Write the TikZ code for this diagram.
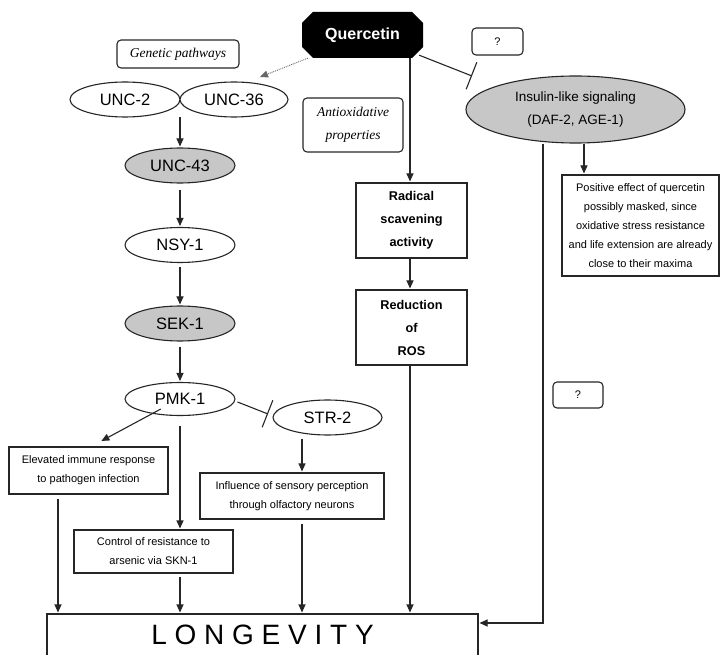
\documentclass[tikz,border=0pt]{standalone}
\usepackage{fontspec}
\setmainfont{Liberation Sans}
\newfontfamily\serifit{Liberation Serif}
\usetikzlibrary{arrows.meta,shapes.geometric,calc}
\begin{document}
\begin{tikzpicture}[x=1pt,y=-1pt,
 line/.style={draw=black!85,line width=1.1pt},
 arr/.style={line,-{Triangle[length=8pt,width=7pt]},shorten >=1pt},
 inh/.style={line,-{Bar[width=29pt,line width=1.1pt]}},
 gene/.style={ellipse,draw=black!85,line width=1.1pt,fill=white,minimum width=110pt,minimum height=35pt,inner sep=0pt,font=\fontsize{16.5}{18}\selectfont},
 shaded/.style={gene,fill=black!22},
 box/.style={draw=black!85,line width=1.1pt,rectangle,inner sep=0pt,align=center,font=\fontsize{11}{19}\selectfont},
 boldbox/.style={box,font=\bfseries\fontsize{12.7}{23}\selectfont},
 note/.style={box,rounded corners=4pt,font=\serifit\itshape\fontsize{13.5}{23}\selectfont},
]
\clip (0,0) rectangle (721,655);
\fill[white] (0,0) rectangle (721,655);

% Quercetin octagon
\fill[black] (313,12) -- (412,12) -- (423,23) -- (423,47) -- (412,58) -- (313,58) -- (302,47) -- (302,23) -- cycle;
\node[minimum width=121pt,minimum height=46pt,inner sep=0pt,text=white,font=\bfseries\fontsize{16}{18}\selectfont] (q) at (362.5,35) {Quercetin};

% notes
\node[note,minimum width=122pt,minimum height=28pt] (gp) at (178,54) {Genetic pathways};
\node[note,minimum width=100pt,minimum height=54pt] (ao) at (353,125) {Antioxidative\\properties};
\node[box,rounded corners=4pt,minimum width=51pt,minimum height=27pt] (qm1) at (497.5,41.5) {?};
\node[box,rounded corners=4pt,minimum width=50pt,minimum height=26pt] (qm2) at (578,395) {?};

% genetic chain
\node[gene,minimum width=110pt] (unc2) at (125,99.5) {UNC-2};
\node[gene,minimum width=108pt] (unc36) at (234,99.5) {UNC-36};
\coordinate (junc) at (180,117);
\node[shaded] (unc43) at (180,165.5) {UNC-43};
\node[gene] (nsy) at (180,245) {NSY-1};
\node[shaded] (sek) at (180,323.5) {SEK-1};
\node[gene,minimum height=33pt] (pmk) at (180,399) {PMK-1};
\node[gene,minimum width=109pt] (str) at (327.5,417.5) {STR-2};

% insulin
\node[ellipse,draw=black!85,line width=1.1pt,fill=black!22,minimum width=219pt,minimum height=67pt,inner sep=0pt,align=center,font=\fontsize{13.5}{23}\selectfont] (ins) at (575.5,109.5) {Insulin-like signaling\\(DAF-2, AGE-1)};

% boxes
\node[boldbox,minimum width=111pt,minimum height=75pt] (rad) at (411.5,220.5) {Radical\\scavening\\activity};
\node[boldbox,minimum width=111pt,minimum height=75pt] (red) at (411.5,327.5) {Reduction\\of\\ROS};
\node[box,minimum width=157pt,minimum height=101pt] (pos) at (640.5,225.5) {Positive effect of quercetin\\possibly masked, since\\oxidative stress resistance\\and life extension are already\\close to their maxima};
\node[box,minimum width=159pt,minimum height=47pt] (elev) at (88.5,470.5) {Elevated immune response\\to pathogen infection};
\node[box,minimum width=159pt,minimum height=43pt] (ctrl) at (153.5,551.5) {Control of resistance to\\arsenic via SKN-1};
\node[box,minimum width=184pt,minimum height=46pt] (infl) at (292,496) {Influence of sensory perception\\through olfactory neurons};
\node[box,minimum width=431pt,minimum height=42pt,font=\fontsize{28}{30}\selectfont] (long) at (262.5,635) {L O N G E V I T Y};

% coordinates
\coordinate (unctip) at (260,77);
\coordinate (insbar) at (472,76);
\coordinate (strbar) at (268,414);
\coordinate (ex) at (58,0);
\coordinate (sx) at (302,0);
\coordinate (rx) at (410,0);
\coordinate (turn) at (543,623);
\coordinate (px) at (584,0);

% connectors
\draw[draw=black!60,line width=0.9pt,densely dotted,-{Triangle[length=8pt,width=7pt]}] ($(q.south west)+(6,0)$) -- (unctip);
\draw[inh] ($(q.south east)+(-4,-3)$) -- (insbar);
\draw[arr] (q.south -| rx) -- (rad.north -| rx);
\draw[arr] (rad.south -| rx) -- (red.north -| rx);
\draw[arr] (red.south -| rx) -- (long.north -| rx);

\draw[arr] (junc) -- (unc43.north);
\draw[arr] ($(unc43.south)+(0,6)$) -- (nsy.north);
\draw[arr] ($(nsy.south)+(0,4)$) -- (sek.north);
\draw[arr] ($(sek.south)+(0,5)$) -- (pmk.north);
\draw[arr] ($(pmk.south west)+(20,-2)$) -- ($(elev.north)+(12,-5)$);
\draw[arr] ($(pmk.south)+(0,10)$) -- (ctrl.north -| pmk);
\draw[inh] ($(pmk.east)+(2,3)$) -- (strbar);
\draw[arr] (str.south -| sx) ++(0,3) -- (infl.north -| sx);

\draw[arr] ($(elev.south -| ex)+(0,4)$) -- (long.north -| ex);
\draw[arr] ($(ctrl.south -| pmk)+(0,3)$) -- (long.north -| pmk);
\draw[arr] ($(infl.south -| sx)+(0,4)$) -- (long.north -| sx);

\draw[arr] (ins.south -| px) -- (pos.north -| px);
\draw[arr] (ins.south -| turn) -- (turn) -- (turn -| long.east);
\end{tikzpicture}
\end{document}
